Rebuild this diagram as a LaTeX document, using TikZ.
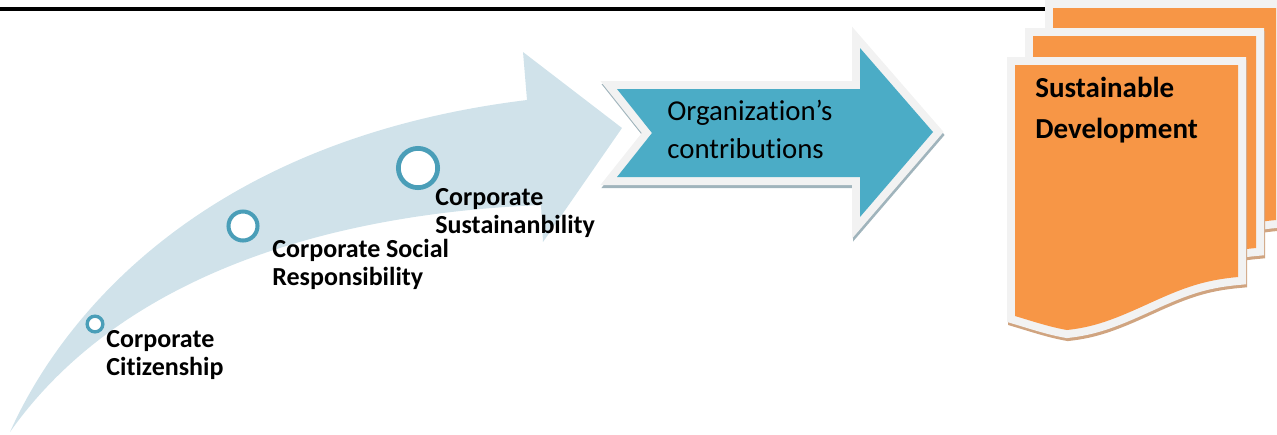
\documentclass[tikz,border=0pt]{standalone}
\usepackage{fontspec}
\setmainfont{Carlito}[Ligatures=NoCommon]
\usetikzlibrary{positioning}

\definecolor{pathblue}{RGB}{208,226,234}
\definecolor{aqua}{RGB}{75,172,198}
\definecolor{ringblue}{RGB}{74,158,184}
\definecolor{sheetorange}{RGB}{247,150,70}
\definecolor{rim}{RGB}{242,242,242}
\definecolor{sheetshadow}{RGB}{208,164,128}
\definecolor{aquashadow}{RGB}{160,180,188}

% outline of the big arrow and of one sheet (x right, y down)
\newcommand\contribpath{(617,89) -- (860,89) -- (860,48) -- (933,132) -- (860,217) -- (860,177) -- (617,177) -- (652,133) -- cycle}
\newcommand\sheetpath{(0,0) -- (223,0) -- (223,212) .. controls (190,215) and (170,222) .. (135,238) .. controls (100,254) and (80,262) .. (52,265) .. controls (35,262) and (20,257) .. (0,251) -- cycle}

\begin{document}
\begin{tikzpicture}[
	x=0.02cm, y=-0.02cm,
	ring/.style={circle, draw=ringblue, fill=white, inner sep=0pt},
	stage/.style={font=\bfseries\fontsize{14.8}{15.9}\selectfont, align=left, inner sep=0pt, anchor=base west},
	rimmed/.style={preaction={draw=rim, line width=9.1pt}},
	shadowed/.style={draw=#1, fill=#1, line width=9.1pt},
	]
	\useasboundingbox (0,0) rectangle (1277,434);
	
	%% rule along the top
	\coordinate (ruleL) at (0,9);
	\coordinate (ruleR) at (1050,9);
	\draw[line width=2.3pt] (ruleL) -- (ruleR);
	
	%% curved path
	\fill[pathblue] (10,432) .. controls (60,320) and (200,140) .. (527,100)
		-- (523,52) -- (622,128) -- (543,242) -- (541,205)
		.. controls (300,215) and (110,290) .. (10,432) -- cycle;
	
	%% stages (nodes sit on the baseline of their last line)
	\node[ring, line width=1.9pt, minimum size=0.314cm] (cc) at (95,324) {};
	\node[ring, line width=2.3pt, minimum size=0.58cm] (csr) at (243,226) {};
	\node[ring, line width=2.7pt, minimum size=0.786cm] (cs) at (418,168) {};
	
	\node[stage] (ccText) at (106,375) {Corporate\\Citizenship};
	\node[stage] (csrText) at (272,285) {Corporate Social\\Responsibility};
	\node[stage] (csText) at (435,233) {Corporate\\Sustainanbility};
	
	%% contributions arrow
	\path[shadowed=aquashadow, shift={(1,3)}] \contribpath;
	\path[rimmed, fill=aqua] \contribpath;
	\node[font=\fontsize{16.4}{21.6}\selectfont, align=left, inner sep=0pt, anchor=base west] (org) at (667,158) {Organization’s\\contributions};
	
	%% stack of sheets
	\foreach \sx/\sy in {1053/8, 1033/36, 1015/65} {
		\path[shadowed=sheetshadow, shift={(\sx+1,\sy+3)}] \sheetpath;
		\path[rimmed, fill=sheetorange, shift={(\sx,\sy)}] \sheetpath;
	}
	\node[font=\bfseries\fontsize{16.5}{22.8}\selectfont, align=left, inner sep=0pt, anchor=base west] (sd) at (1035,138) {Sustainable\\Development};
	
\end{tikzpicture}
\end{document}
